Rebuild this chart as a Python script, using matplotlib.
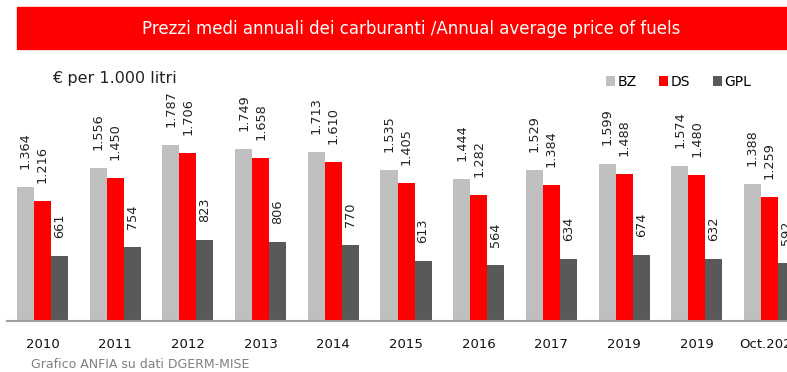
import matplotlib.pyplot as plt
import numpy as np
from matplotlib.patches import Rectangle

years = ["2010", "2011", "2012", "2013", "2014", "2015", "2016", "2017",
         "2019", "2019", "Oct.2020"]
bz = [1364, 1556, 1787, 1749, 1713, 1535, 1444, 1529, 1599, 1574, 1388]
ds = [1216, 1450, 1706, 1658, 1610, 1405, 1282, 1384, 1488, 1480, 1259]
gpl = [661, 754, 823, 806, 770, 613, 564, 634, 674, 632, 592]

colors = {"BZ": "#BFBFBF", "DS": "#FF0000", "GPL": "#595959"}


def fmt(v):
    # italian thousands separator
    return f"{v:,}".replace(",", ".")


W, H = 787, 372
fig = plt.figure(figsize=(W / 100, H / 100), dpi=100)

# red title band
fig.patches.append(Rectangle((17 / W, 1 - 49 / H), 1.0, 42 / H,
                             transform=fig.transFigure, color="#FF0000",
                             zorder=0))
fig.text(411 / W, 1 - 29 / H, "Prezzi medi annuali dei carburanti /Annual average price of fuels",
         color="white", fontsize=12, ha="center", va="center")

ax = fig.add_axes([7 / W, 1 - 321 / H, 780 / W, 261 / H])
x = np.arange(len(years))
w = 0.234

series = [("BZ", bz, -w), ("DS", ds, 0), ("GPL", gpl, w)]
for name, vals, off in series:
    bars = ax.bar(x + off, vals, width=w, color=colors[name], label=name,
                  zorder=2)
    for b, v in zip(bars, vals):
        ax.annotate(fmt(v), (b.get_x() + b.get_width() / 2, v),
                    xytext=(0, 13), textcoords="offset points",
                    rotation=90, ha="center", va="bottom",
                    fontsize=9.3, color="#222222", annotation_clip=False)

ax.set_xlim(-0.488, 10.24)
ax.set_ylim(0, 2650)
ax.set_xticks(x)
ax.set_xticklabels(years, fontsize=9.5, color="#111111")
ax.tick_params(axis="x", length=0, pad=12)
ax.set_yticks([])
for s in ["top", "right", "left"]:
    ax.spines[s].set_visible(False)
ax.spines["bottom"].set_color("#A0A0A0")
ax.spines["bottom"].set_linewidth(1.5)

fig.text(52 / W, 1 - 78 / H, "€ per 1.000 litri", fontsize=11.5,
         color="#222222", va="center", ha="left")

ax.legend(loc="center left", bbox_to_anchor=(599 / W, 1 - 82 / H),
          bbox_transform=fig.transFigure, ncol=3, frameon=False,
          fontsize=10, handlelength=0.65, handleheight=0.65,
          handletextpad=0.2, columnspacing=1.6, borderpad=0)

fig.text(31 / W, 1 - 365 / H, "Grafico ANFIA su dati DGERM-MISE",
         fontsize=9, color="#808080", va="center", ha="left")

fig.savefig("out.png", dpi=100)
